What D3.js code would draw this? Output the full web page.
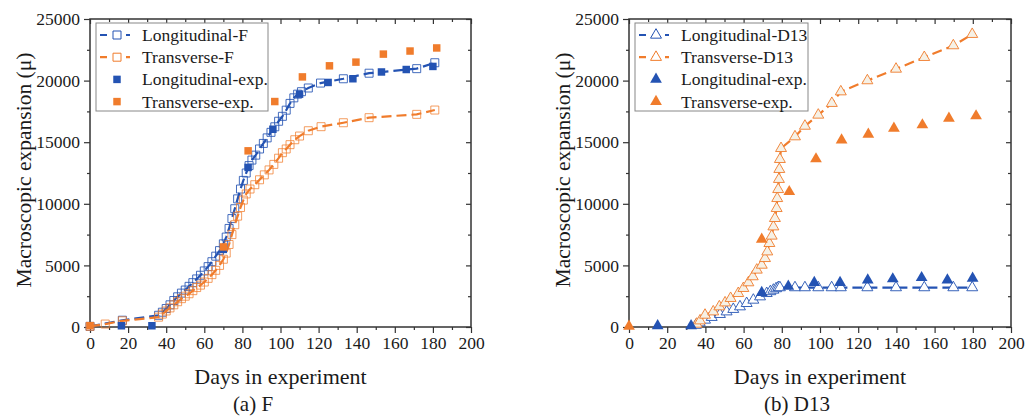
<!DOCTYPE html>
<html>
<head>
<meta charset="utf-8">
<script src="https://cdn.jsdelivr.net/npm/d3@7"></script>
<style>
  body { margin: 0; background: #fff; }
  text { font-family: "Liberation Serif", "Times New Roman", serif; fill: #1a1a1a; }
</style>
</head>
<body>
<script>
// ---- data (day, expansion µ) ----
const longF = [[0,50],[17,550],[36,950],[38,1200],[40,1500],[42,1800],[44,2150],[46,2450],[48,2750],[50,3000],
  [52,3300],[54,3600],[56,3900],[58,4200],[60,4550],[62,4900],[64,5300],[66,5750],[68,6200],[70,6750],
  [71.5,7300],[73,8000],[74.5,8800],[76,9600],[77.5,10400],[79,11200],[80.5,11900],[82,12500],[83.5,13100],
  [85,13550],[87,13950],[89,14450],[91,14900],[93,15350],[95,15800],[97,16250],[99,16700],[101,17100],
  [103,17600],[105,18150],[107,18600],[109,18900],[111,19100],[114.6,19400],[121,19800],[133,20150],
  [146.5,20600],[171.5,20970],[181,21450]];
const transF = [[0,50],[8,240],[17,500],[36,800],[38,1050],[40,1300],[42,1550],[44,1800],[46,2050],[48,2300],
  [50,2500],[52,2700],[54,2950],[56,3200],[58,3400],[60,3650],[62,3950],[64,4250],[66,4600],[68,5000],
  [70,5500],[71.5,6000],[73,6700],[74.5,7500],[76,8300],[77.5,9000],[79,9700],[80.5,10300],[82,10800],
  [84,11200],[86.5,11550],[89,11950],[91.5,12350],[94,12750],[96.5,13200],[99,13700],[101,14150],
  [103,14450],[105,14800],[107.5,15200],[110,15500],[114.6,15930],[121.3,16260],[133,16580],
  [146.5,16990],[171.5,17260],[181,17610]];
const longFexp = [[16.5,100],[32.5,100],[70,6300],[83,12950],[96,16050],[110,18900],[125,19850],
  [138,20150],[153,20700],[166,20900],[180,21150]];
const transFexp = [[0,100],[70,6500],[83,14300],[97,18300],[111.5,20300],[125.7,21200],[139.6,21500],
  [154,22150],[168,22400],[182,22650]];

const longD13 = [[35,150],[37,350],[39.8,570],[43.3,790],[47.6,1030],[51.1,1240],[54.6,1440],[58.1,1650],
  [61.6,1920],[65.1,2190],[68.6,2460],[72.1,2730],[74,2880],[75.6,3000],[77,3120],[78.2,3220],[79,3200],
  [86.9,3200],[92.1,3200],[99.1,3200],[106.1,3200],[110.9,3200],[124.8,3200],[139.8,3200],[154.6,3200],
  [169.8,3200],[179.7,3200]];
const transD13 = [[35.4,240],[37.2,510],[39.8,970],[44.1,1240],[47.3,1650],[50.3,1970],[53.2,2330],
  [57.2,2730],[59.9,3140],[62.5,3600],[64.8,4090],[66.9,4630],[69.5,5030],[71.2,5570],[72.4,6110],
  [73.5,6790],[74.7,7390],[75.6,8140],[76.4,8820],[77.3,9630],[77.6,10440],[78.1,11170],[78.5,11990],
  [78.7,12800],[79,13610],[79.6,14500],[86.9,15450],[92.1,16310],[99.1,17210],[106.2,18160],
  [110.9,19100],[124.8,20000],[139.8,20940],[154.6,21890],[169.8,22840],[179.7,23760]];
const longD13exp = [[15,100],[32.5,100],[69.5,2790],[83.4,3300],[97,3600],[110.5,3600],[125,3810],
  [138.1,3900],[153.2,4000],[166.7,3810],[179.9,3950]];
const transD13exp = [[0,50],[69.5,7120],[83.9,10980],[97.9,13640],[111.3,15180],[125.3,15640],
  [138.7,16120],[153.6,16400],[167.5,16940],[181.7,17130]];

const xTicks = [0,20,40,60,80,100,120,140,160,180,200];
const yTicks = [0,5000,10000,15000,20000,25000];
const legendF = ["Longitudinal-F","Transverse-F","Longitudinal-exp.","Transverse-exp."];
const legendD13 = ["Longitudinal-D13","Transverse-D13","Longitudinal-exp.","Transverse-exp."];

const BLUE = "#2453b3", ORANGE = "#f07c2c";
const FONT = '"Liberation Serif", "Times New Roman", serif';

const svg = d3.select("body").append("svg").attr("width",1026).attr("height",416);

function drawPanel(p) {
  const x = d3.scaleLinear().domain([0,200]).range([p.left, p.right]);
  const y = d3.scaleLinear().domain([0,25000]).range([327, 19]);
  const g = svg.append("g");

  const minorX = d3.range(10,200,20), minorY = d3.range(2500,25000,5000);
  const axStyle = sel => {
    sel.attr("font-family", FONT);
    sel.select(".domain").remove();
    sel.selectAll("line").attr("stroke","#333").attr("stroke-width",1.2);
    sel.selectAll("text").style("font-size","17.5px").attr("fill","#1a1a1a");
  };
  // bottom / left, outward ticks
  g.append("g").attr("transform","translate(0,327)")
    .call(d3.axisBottom(x).tickValues(xTicks).tickSize(6).tickPadding(4)).call(axStyle);
  g.append("g").attr("transform","translate(0,327)")
    .call(d3.axisBottom(x).tickValues(minorX).tickSize(3).tickFormat("")).call(axStyle);
  g.append("g").attr("transform",`translate(${p.left},0)`)
    .call(d3.axisLeft(y).tickValues(yTicks).tickSize(6).tickPadding(4).tickFormat(d3.format("d"))).call(axStyle);
  g.append("g").attr("transform",`translate(${p.left},0)`)
    .call(d3.axisLeft(y).tickValues(minorY).tickSize(3).tickFormat("")).call(axStyle);
  // mirror ticks inward
  g.append("g").attr("transform","translate(0,19)")
    .call(d3.axisTop(x).tickValues(xTicks).tickSize(-5).tickFormat("")).call(axStyle);
  g.append("g").attr("transform","translate(0,19)")
    .call(d3.axisTop(x).tickValues(minorX).tickSize(-3).tickFormat("")).call(axStyle);
  g.append("g").attr("transform",`translate(${p.right},0)`)
    .call(d3.axisRight(y).tickValues(yTicks).tickSize(-5).tickFormat("")).call(axStyle);
  g.append("g").attr("transform",`translate(${p.right},0)`)
    .call(d3.axisRight(y).tickValues(minorY).tickSize(-3).tickFormat("")).call(axStyle);

  g.append("rect").attr("x",p.left).attr("y",19).attr("width",p.right-p.left).attr("height",308)
    .attr("fill","none").attr("stroke","#333").attr("stroke-width",1.5);

  const symOpen = d3.symbol().type(p.shape).size(p.shape === d3.symbolSquare ? 64 : 52);
  const symFill = d3.symbol().type(p.shape).size(p.shape === d3.symbolSquare ? 56 : 60);
  const line = d3.line().x(d => x(d[0])).y(d => y(d[1]));

  p.models.forEach(m => {
    g.append("path").datum(m.data).attr("d", line).attr("fill","none")
      .attr("stroke", m.color).attr("stroke-width",2.2).attr("stroke-dasharray","10,5");
    g.append("g").selectAll("path").data(m.data).join("path")
      .attr("transform", d => `translate(${x(d[0])},${y(d[1])})`)
      .attr("d", symOpen).attr("fill", m.fill).attr("stroke", m.color)
      .attr("stroke-opacity", m.opacity).attr("stroke-width",1);
  });
  p.exps.forEach(e => {
    g.append("g").selectAll("path").data(e.data).join("path")
      .attr("transform", d => `translate(${x(d[0])},${y(d[1])})`)
      .attr("d", symFill).attr("fill", e.color);
  });

  // legend
  const lg = g.append("g");
  lg.append("rect").attr("x",p.left+6).attr("y",23).attr("width",p.legW).attr("height",88)
    .attr("fill","#fff").attr("stroke","#888").attr("stroke-width",1);
  const items = [
    {m:p.models[0], line:true}, {m:p.models[1], line:true},
    {m:p.exps[0], line:false}, {m:p.exps[1], line:false}
  ];
  items.forEach((it, i) => {
    const yy = 35 + i*22.2, mx = p.left + 27;
    if (it.line) {
      lg.append("line").attr("x1",p.left+10).attr("x2",p.left+40).attr("y1",yy).attr("y2",yy)
        .attr("stroke",it.m.color).attr("stroke-width",2.2).attr("stroke-dasharray","7,6");
      lg.append("path").attr("transform",`translate(${mx},${yy})`).attr("d",symOpen)
        .attr("fill","#fff").attr("stroke",it.m.color).attr("stroke-width",1);
    } else {
      lg.append("path").attr("transform",`translate(${mx},${yy})`).attr("d",symFill).attr("fill",it.m.color);
    }
    lg.append("text").attr("x",p.left+52).attr("y",yy+6).style("font-size","17.5px").text(p.legend[i]);
  });

  // titles
  g.append("text").attr("transform",`translate(${p.left-59},170) rotate(-90)`)
    .attr("text-anchor","middle").style("font-size","21.5px").text("Macroscopic expansion (μ)");
  g.append("text").attr("x",(p.left+p.right)/2).attr("y",384).attr("text-anchor","middle")
    .style("font-size","22px").text("Days in experiment");
  g.append("text").attr("x",p.capX).attr("y",411).attr("text-anchor","middle")
    .style("font-size","21px").text(p.caption);
}

drawPanel({
  left: 90, right: 471, shape: d3.symbolSquare, legend: legendF, legW: 172, caption: "(a) F", capX: 253,
  models: [
    {data: longF, color: BLUE, fill: "none", opacity: 0.85},
    {data: transF, color: ORANGE, fill: "none", opacity: 0.75}
  ],
  exps: [{data: longFexp, color: BLUE}, {data: transFexp, color: ORANGE}]
});
drawPanel({
  left: 629, right: 1011, shape: d3.symbolTriangle, legend: legendD13, legW: 173, caption: "(b) D13", capX: 797,
  models: [
    {data: longD13, color: BLUE, fill: "#fff", opacity: 0.9},
    {data: transD13, color: ORANGE, fill: "#f6f1e6", opacity: 0.9}
  ],
  exps: [{data: longD13exp, color: BLUE}, {data: transD13exp, color: ORANGE}]
});
</script>
</body>
</html>
